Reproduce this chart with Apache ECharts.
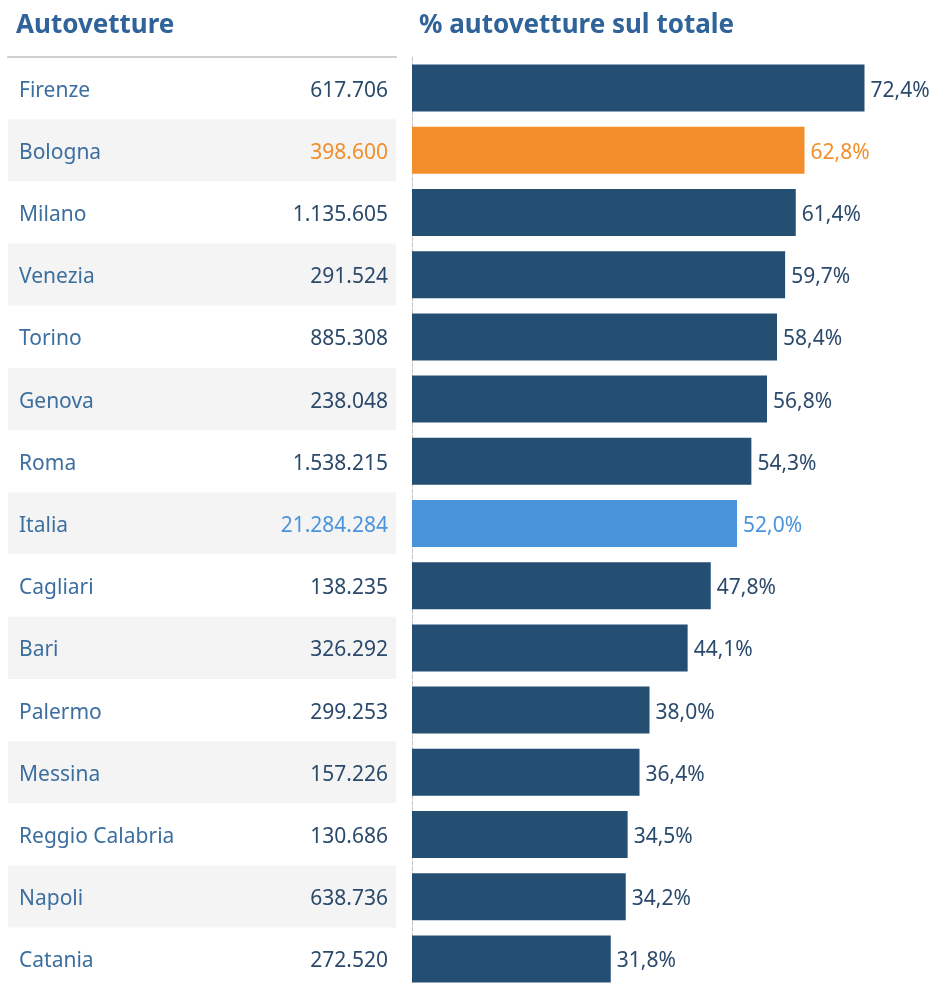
<!DOCTYPE html>
<html>
<head>
<meta charset="utf-8">
<script src="https://cdn.jsdelivr.net/npm/echarts@6/dist/echarts.min.js"></script>
<style>
html, body { margin: 0; padding: 0; background: #fff; overflow: hidden; }
#main { width: 937px; height: 990px; }
</style>
</head>
<body>
<div id="main"></div>
<script>
var cities = ['Firenze', 'Bologna', 'Milano', 'Venezia', 'Torino', 'Genova', 'Roma', 'Italia',
  'Cagliari', 'Bari', 'Palermo', 'Messina', 'Reggio Calabria', 'Napoli', 'Catania'];
var cars = [617706, 398600, 1135605, 291524, 885308, 238048, 1538215, 21284284,
  138235, 326292, 299253, 157226, 130686, 638736, 272520];
var share = [72.4, 62.8, 61.4, 59.7, 58.4, 56.8, 54.3, 52.0, 47.8, 44.1, 38.0, 36.4, 34.5, 34.2, 31.8];

// colori evidenziati
var highlight = { 'Bologna': '#f28e2b', 'Italia': '#4a94dc' };
var barColor = '#254e73';
var textDark = '#2b4a6b';
var nameColor = '#3c6e9f';
var font = 'Noto Sans';

function fmtNum(n) {
  return String(n).replace(/\B(?=(\d{3})+(?!\d))/g, '.');
}

var myChart = echarts.init(document.getElementById('main'));

var valueData = cities.map(function (c, i) {
  return { value: fmtNum(cars[i]), textStyle: { color: highlight[c] || textDark } };
});

// spinge il testo un po' più in basso nella riga
function low(color) {
  return { t: { padding: [5, 0, 0, 0], fontSize: 21, fontFamily: font, color: color } };
}

option = {
  animation: false,
  textStyle: { fontFamily: font },
  title: [
    {
      text: 'Autovetture', left: 11, top: 8,
      textStyle: { color: '#2f6399', fontSize: 26, fontWeight: 'bold', fontFamily: font }
    },
    {
      text: '% autovetture sul totale', left: 414, top: 8,
      textStyle: { color: '#2f6399', fontSize: 26, fontWeight: 'bold', fontFamily: font }
    }
  ],
  grid: [
    { left: 8, top: 57, width: 388, bottom: 0 },
    { left: 412, top: 57, width: 500, bottom: 0 }
  ],
  xAxis: [
    {
      gridIndex: 0, type: 'value', position: 'top', min: 0, max: 1,
      axisLine: { show: true, onZero: false, lineStyle: { color: '#cfcfcf', width: 2 } },
      axisTick: { show: false }, axisLabel: { show: false }, splitLine: { show: false }
    },
    {
      gridIndex: 1, type: 'value', min: 0, max: 80, show: false
    }
  ],
  yAxis: [
    {
      gridIndex: 0, type: 'category', inverse: true, data: cities,
      axisLine: { show: false }, axisTick: { show: false },
      axisLabel: {
        inside: true, margin: 11, fontSize: 21, color: nameColor, fontFamily: font,
        formatter: function (v) { return '{t|' + v + '}'; },
        rich: low(nameColor)
      },
      splitArea: { show: true, areaStyle: { color: ['#ffffff', '#f4f4f4'] } }
    },
    {
      gridIndex: 0, type: 'category', inverse: true, position: 'right', data: valueData,
      axisLine: { show: false }, axisTick: { show: false },
      axisLabel: {
        inside: true, margin: 8, fontSize: 21, fontFamily: font,
        formatter: function (v) { return '{t|' + v + '}'; },
        rich: { t: { padding: [5, 0, 0, 0], fontSize: 21, fontFamily: font } }
      }
    },
    {
      gridIndex: 1, type: 'category', inverse: true, data: cities,
      axisLine: { show: true, lineStyle: { color: '#c4c4c4', type: 'dashed', width: 1 } },
      axisTick: { show: false }, axisLabel: { show: false }
    }
  ],
  series: [
    {
      type: 'bar', xAxisIndex: 1, yAxisIndex: 2, barWidth: 47,
      data: share.map(function (v, i) {
        var c = highlight[cities[i]];
        return {
          value: v,
          itemStyle: { color: c || barColor },
          label: { color: c || textDark }
        };
      }),
      label: {
        show: true, position: 'right', distance: 6, fontSize: 21, fontFamily: font,
        formatter: function (p) { return '{t|' + p.value.toFixed(1).replace('.', ',') + '%}'; },
        rich: { t: { padding: [5, 0, 0, 0], fontSize: 21, fontFamily: font } }
      }
    }
  ]
};
myChart.setOption(option);
</script>
</body>
</html>
